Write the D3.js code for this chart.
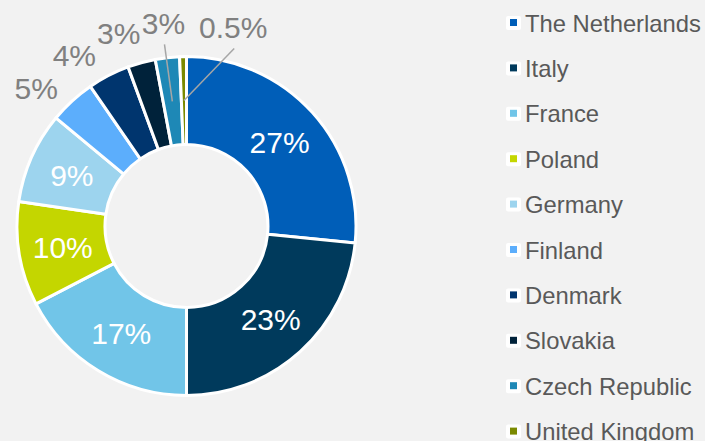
<!DOCTYPE html>
<html><head><meta charset="utf-8">
<script src="https://cdn.jsdelivr.net/npm/d3@7"></script>
<style>
html,body{margin:0;padding:0;background:#f2f2f2;}
svg{display:block;}
text{font-family:"Liberation Sans",Arial,sans-serif;}
</style></head>
<body>
<svg id="chart" width="705" height="441"></svg>
<script>
const categories = ["The Netherlands","Italy","France","Poland","Germany","Finland","Denmark","Slovakia","Czech Republic","United Kingdom"];
const values = [26.6, 23.4, 17.4, 9.9, 8.7, 4.4, 4.0, 2.65, 2.3, 0.65];
const labels = ["27%","23%","17%","10%","9%","5%","4%","3%","3%","0.5%"];
const colors = ["#005eb8","#003a5c","#71c5e8","#c4d600","#9dd4ee","#5caefc","#00356e","#00223a","#1e88b6","#7b8a00"];

const W = 705, H = 441;
const cx = 186.5, cy = 226;
const outerR = 169.5, innerR = 81.5;
const svg = d3.select("#chart");
svg.append("rect").attr("width", W).attr("height", H).attr("fill", "#f2f2f2");

const data = categories.map((c, i) => ({name: c, value: values[i], label: labels[i], color: colors[i]}));
const pie = d3.pie().value(d => d.value).sort(null);
const arcs = pie(data);
const arc = d3.arc().innerRadius(innerR).outerRadius(outerR);

const g = svg.append("g").attr("transform", `translate(${cx},${cy})`);
g.selectAll("path.slice").data(arcs).enter().append("path")
  .attr("class", "slice")
  .attr("d", arc)
  .attr("fill", d => d.data.color)
  .attr("stroke", "#ffffff")
  .attr("stroke-width", 3)
  .attr("stroke-linejoin", "round");

// labels
const fs = 30;
const insideMin = 8; // slices at least this big carry label inside
const outsideR = 204;
const angleNudge = {"Finland": -5, "Denmark": -6, "Slovakia": -4, "United Kingdom": 14.4};
arcs.forEach(a => {
  const v = a.data.value;
  const mid = (a.startAngle + a.endAngle) / 2;
  if (v >= insideMin) {
    const [x, y] = arc.centroid(a);
    g.append("text").attr("x", x).attr("y", y + fs * 0.357)
      .attr("text-anchor", "middle").attr("font-size", fs).attr("fill", "#ffffff")
      .text(a.data.label);
  } else {
    const ang = mid + (angleNudge[a.data.name] || 0) * Math.PI / 180;
    const lx = outsideR * Math.sin(ang), ly = -outsideR * Math.cos(ang);
    g.append("text").attr("x", lx).attr("y", ly + fs * 0.357)
      .attr("text-anchor", "middle").attr("font-size", fs).attr("fill", "#808080")
      .text(a.data.label);
    if (v < 2.5) {
      const [x0, y0] = arc.centroid(a);
      g.append("line").attr("x1", x0).attr("y1", y0).attr("x2", lx + 1).attr("y2", ly + 21)
        .attr("stroke", "#a6a6a6").attr("stroke-width", 1.5);
    }
  }
});

// legend
const legendX = 510, legendY0 = 23, legendStep = 45.4;
const lg = svg.append("g");
data.forEach((d, i) => {
  const y = legendY0 + i * legendStep;
  lg.append("rect").attr("x", legendX - 4).attr("y", y - 7).attr("width", 15).attr("height", 14)
    .attr("rx", 2).attr("fill", "#ffffff");
  lg.append("rect").attr("x", legendX).attr("y", y - 4).attr("width", 7).attr("height", 7)
    .attr("fill", d.color);
  lg.append("text").attr("x", legendX + 15).attr("y", y + 8.5)
    .attr("font-size", 23.8).attr("fill", "#595959").text(d.name);
});
</script>
</body></html>
